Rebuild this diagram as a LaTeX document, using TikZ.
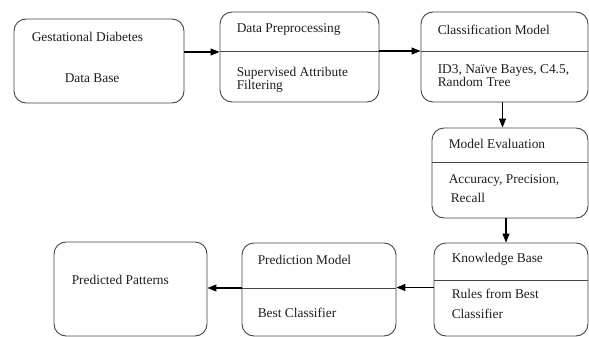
\documentclass[tikz,border=0pt]{standalone}
\usepackage{fontspec}
\setmainfont{Liberation Serif}
\usetikzlibrary{arrows.meta, positioning}
\definecolor{boxgray}{RGB}{70,70,70}
\definecolor{inkgray}{RGB}{30,30,30}

\begin{document}
\begin{tikzpicture}[
				x=1pt, y=-1pt,
				block/.style={rectangle, draw=boxgray, line width=0.9pt, rounded corners=12pt, inner sep=0pt},
				txt/.style={anchor=west, inner sep=0pt, align=left, text=inkgray,
					font=\fontsize{13.4}{13.5}\selectfont},
				divider/.style={draw=boxgray, line width=0.9pt},
				arrow/.style={-{Triangle[length=9pt, width=7pt]}, line width=1.1pt, color=black}
				]
				\useasboundingbox[fill=white] (0,0) rectangle (589,337);

				% boxes
				\node[block, minimum width=170pt, minimum height=84pt] (gdb) at (99,61) {};
				\node[block, minimum width=159pt, minimum height=90pt] (prep) at (299.5,57) {};
				\node[block, minimum width=167pt, minimum height=90pt] (clf) at (504.5,57) {};
				\node[block, minimum width=156pt, minimum height=90pt] (eval) at (510,173) {};
				\node[block, minimum width=154pt, minimum height=93pt] (kb) at (511,289.5) {};
				\node[block, minimum width=154pt, minimum height=93pt] (pm) at (319,289.5) {};
				\node[block, minimum width=153pt, minimum height=94pt] (pp) at (130.5,289) {};

				% dividers
				\draw[divider] ([yshift=6pt]prep.west) -- ([yshift=6pt]prep.east);
				\draw[divider] ([yshift=6pt]clf.west) -- ([yshift=6pt]clf.east);
				\draw[divider] ([yshift=11pt]eval.west) -- ([yshift=11pt]eval.east);
				\draw[divider] ([yshift=9.5pt]kb.west) -- ([yshift=9.5pt]kb.east);
				\draw[divider] ([yshift=1.5pt]pm.west) -- ([yshift=1.5pt]pm.east);

				% texts
				\node[txt] (gdbT) at ([shift={(18,18)}]gdb.north west) {Gestational Diabetes};
				\node[txt] (gdbB) at ([shift={(51,60)}]gdb.north west) {Data Base};
				\node[txt] (prepT) at ([shift={(17,18)}]prep.north west) {Data Preprocessing};
				\node[txt] (prepB) at ([shift={(17,68)}]prep.north west) {Supervised Attribute\\[-1pt]Filtering};
				\node[txt] (clfT) at ([shift={(17,18)}]clf.north west) {Classification Model};
				\node[txt] (clfB) at ([shift={(17,64)}]clf.north west) {ID3, Naïve Bayes, C4.5,\\Random Tree};
				\node[txt] (evalT) at ([shift={(17,16)}]eval.north west) {Model Evaluation};
				\node[txt] (evalB) at ([shift={(17,61.5)}]eval.north west) {Accuracy, Precision,\\[5.5pt]\hspace*{2pt}Recall};
				\node[txt] (kbT) at ([shift={(18,17)}]kb.north west) {Knowledge Base};
				\node[txt] (kbB) at ([shift={(18,61)}]kb.north west) {Rules from Best\\[6.5pt]Classifier};
				\node[txt] (pmT) at ([shift={(16,17)}]pm.north west) {Prediction Model};
				\node[txt] (pmB) at ([shift={(16,70)}]pm.north west) {Best Classifier};
				\node[txt] (ppT) at ([shift={(18,38)}]pp.north west) {Predicted Patterns};

				% flow
				\draw[arrow] ([yshift=9pt]gdb.east) -- ([yshift=5pt]prep.west);
				\draw[arrow] ([yshift=6pt]prep.east) -- ([yshift=6pt]clf.west);
				\draw[arrow] ([xshift=-2pt]clf.south) -- ([xshift=-2pt]clf.south |- eval.north);
				\draw[arrow] ([xshift=-4pt]eval.south) -- ([xshift=-4pt]eval.south |- kb.north);
				\draw[arrow] ([yshift=2pt]kb.west) -- ([yshift=2pt]pm.east);
				\draw[arrow] ([yshift=1.5pt]pm.west) -- ([yshift=1pt]pp.east);
			\end{tikzpicture}
\end{document}
